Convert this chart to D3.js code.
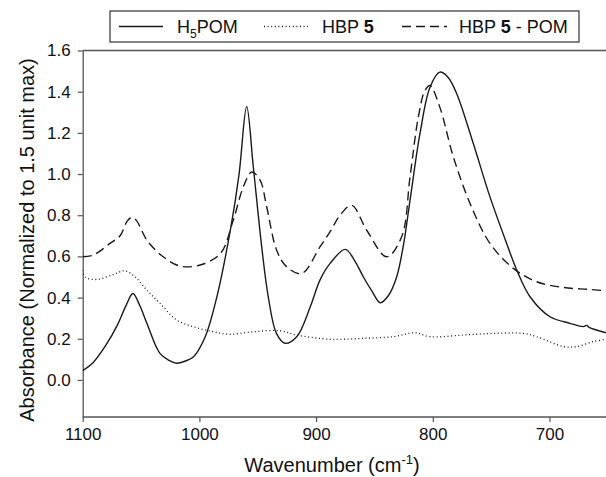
<!DOCTYPE html>
<html>
<head>
<meta charset="utf-8">
<script src="https://cdn.jsdelivr.net/npm/d3@7"></script>
<style>
  html, body { margin: 0; padding: 0; background: #fff; }
  svg { display: block; font-family: "Liberation Sans", Arial, sans-serif; }
</style>
</head>
<body>
<svg id="chart" width="606" height="477"></svg>
<script>
// ---- Data (wavenumber cm^-1, absorbance) ----
const xTicks = [1100, 1000, 900, 800, 700];
const yTicks = [0.0, 0.2, 0.4, 0.6, 0.8, 1.0, 1.2, 1.4, 1.6];

const h5pomWn = [1100, 1091, 1080, 1070, 1063, 1057, 1051, 1045, 1034, 1026, 1019.5, 1012, 1005, 995, 985, 973, 966, 959.5, 953.8, 946.6, 941, 934, 926.6, 916.6, 905, 896.7, 888, 875, 867, 859.5, 852, 845, 838, 831, 825, 819.5, 811, 802.4, 794, 787, 779.5, 765.3, 751, 736.7, 728, 716.7, 699.6, 682.4, 671, 668, 666, 651.6];
const h5pomAbs = [0.045, 0.085, 0.17, 0.27, 0.36, 0.42, 0.36, 0.275, 0.13, 0.095, 0.081, 0.092, 0.113, 0.21, 0.404, 0.743, 1.0, 1.328, 1.034, 0.646, 0.404, 0.226, 0.178, 0.21, 0.355, 0.485, 0.566, 0.634, 0.58, 0.5, 0.43, 0.375, 0.41, 0.5, 0.66, 0.873, 1.196, 1.422, 1.495, 1.47, 1.39, 1.148, 0.889, 0.663, 0.533, 0.404, 0.307, 0.275, 0.259, 0.265, 0.255, 0.229];

const hbpWn = [1100, 1098, 1088, 1073.8, 1063.8, 1055, 1045, 1033.8, 1019.5, 1005, 988, 975, 953.8, 931, 916.6, 888, 879.5, 859.5, 833.8, 815.2, 802.4, 774, 748.2, 722.4, 711, 688, 676.7, 662.5, 651.6];
const hbpAbs = [0.533, 0.5, 0.488, 0.512, 0.53, 0.5, 0.436, 0.372, 0.291, 0.258, 0.234, 0.222, 0.234, 0.239, 0.218, 0.197, 0.197, 0.202, 0.21, 0.229, 0.21, 0.218, 0.226, 0.226, 0.21, 0.162, 0.162, 0.186, 0.197];

const hbpPomWn = [1100, 1091, 1076.6, 1068, 1062, 1058, 1054, 1045, 1031, 1016.6, 999.5, 982, 971, 962.4, 955.2, 948, 942.3, 933.8, 925.2, 912.3, 896.7, 888, 879.5, 869.5, 856.6, 839.5, 826.7, 819.5, 812.4, 806.7, 802.4, 794, 782.4, 768, 751, 731, 711, 688, 666.8, 651.6];
const hbpPomAbs = [0.598, 0.606, 0.663, 0.7, 0.77, 0.79, 0.775, 0.679, 0.598, 0.553, 0.558, 0.614, 0.776, 0.937, 1.01, 0.97, 0.84, 0.63, 0.549, 0.517, 0.646, 0.72, 0.8, 0.848, 0.727, 0.598, 0.695, 0.986, 1.277, 1.406, 1.43, 1.325, 1.083, 0.856, 0.663, 0.542, 0.477, 0.449, 0.44, 0.433];

// ---- Layout ----
const svg = d3.select("#chart");
const plotLeft = 82.7, plotTop = 50.5, plotBottom = 417;
const x = d3.scaleLinear().domain([1100, 600]).range([plotLeft, plotLeft + 5 * 116.7]);
const y = d3.scaleLinear().domain([-0.18, 1.6]).range([plotBottom, plotTop]);
const axisColor = "#555";
const lineColor = "#1a1a1a";

svg.append("defs").append("clipPath").attr("id", "clip")
  .append("rect").attr("x", plotLeft).attr("y", plotTop).attr("width", 606 - plotLeft).attr("height", plotBottom - plotTop);

// Top frame line
svg.append("line").attr("x1", plotLeft).attr("x2", 606).attr("y1", plotTop).attr("y2", plotTop)
  .attr("stroke", axisColor).attr("stroke-width", 1.3);

// Axes
const xAxis = d3.axisBottom(x).tickValues(xTicks).tickSize(5).tickSizeOuter(0).tickPadding(6)
  .tickFormat(d3.format("d"));
const gx = svg.append("g").attr("transform", `translate(0,${plotBottom})`).call(xAxis);
const yAxis = d3.axisLeft(y).tickValues(yTicks).tickSize(5).tickSizeOuter(0).tickPadding(7)
  .tickFormat(d3.format(".1f"));
const gy = svg.append("g").attr("transform", `translate(${plotLeft},0)`).call(yAxis);
[gx, gy].forEach(g => {
  g.attr("font-family", "'Liberation Sans', Arial, sans-serif");
  g.select(".domain").attr("stroke", axisColor).attr("stroke-width", 1.3);
  g.selectAll(".tick line").attr("stroke", axisColor).attr("stroke-width", 1.2);
  g.selectAll(".tick text").attr("fill", "#111").attr("font-size", 17);
});
gx.select(".domain").attr("d", `M${plotLeft},0H606`);

// Axis titles
const xt = svg.append("text").attr("x", 332).attr("y", 472).attr("text-anchor", "middle")
  .attr("font-size", 20).attr("fill", "#111");
xt.append("tspan").text("Wavenumber (cm");
xt.append("tspan").attr("font-size", 13).attr("dy", -8).text("-1");
xt.append("tspan").attr("dy", 8).text(")");

svg.append("text").attr("transform", "translate(34,240) rotate(-90)").attr("text-anchor", "middle")
  .attr("font-size", 20).attr("fill", "#111").text("Absorbance (Normalized to 1.5 unit max)");

// Lines
const line = d3.line().x(d => x(d[0])).y(d => y(d[1])).curve(d3.curveCatmullRom.alpha(0.5));
const plot = svg.append("g").attr("clip-path", "url(#clip)");
const series = [
  { wn: h5pomWn, abs: h5pomAbs, dash: null, w: 1.4 },
  { wn: hbpWn, abs: hbpAbs, dash: "1,2.6", w: 1.3 },
  { wn: hbpPomWn, abs: hbpPomAbs, dash: "9,5", w: 1.4 }
];
series.forEach(s => {
  const data = s.wn.map((w, i) => [w, s.abs[i]]);
  plot.append("path").datum(data).attr("d", line).attr("fill", "none")
    .attr("stroke", lineColor).attr("stroke-width", s.w)
    .attr("stroke-dasharray", s.dash);
});

// Legend
const lg = svg.append("g");
lg.append("rect").attr("x", 110).attr("y", 11).attr("width", 469).attr("height", 31)
  .attr("fill", "#fff").attr("stroke", "#333").attr("stroke-width", 1.2);
const ly = 26.5;
const items = [
  { x1: 119, x2: 163, dash: null, tx: 177 },
  { x1: 264, x2: 308, dash: "1,2.6", tx: 322 },
  { x1: 402, x2: 447, dash: "9,5", tx: 459 }
];
items.forEach(it => {
  lg.append("line").attr("x1", it.x1).attr("x2", it.x2).attr("y1", ly).attr("y2", ly)
    .attr("stroke", lineColor).attr("stroke-width", 1.3).attr("stroke-dasharray", it.dash);
});
const t1 = lg.append("text").attr("x", items[0].tx).attr("y", ly + 6.5).attr("font-size", 18).attr("fill", "#111");
t1.append("tspan").text("H");
t1.append("tspan").attr("font-size", 12).attr("dy", 5).text("5");
t1.append("tspan").attr("dy", -5).text("POM");
const t2 = lg.append("text").attr("x", items[1].tx).attr("y", ly + 6.5).attr("font-size", 18).attr("fill", "#111");
t2.append("tspan").text("HBP ");
t2.append("tspan").attr("font-weight", "bold").text("5");
const t3 = lg.append("text").attr("x", items[2].tx).attr("y", ly + 6.5).attr("font-size", 18).attr("fill", "#111");
t3.append("tspan").text("HBP ");
t3.append("tspan").attr("font-weight", "bold").text("5");
t3.append("tspan").text(" - POM");
</script>
</body>
</html>
